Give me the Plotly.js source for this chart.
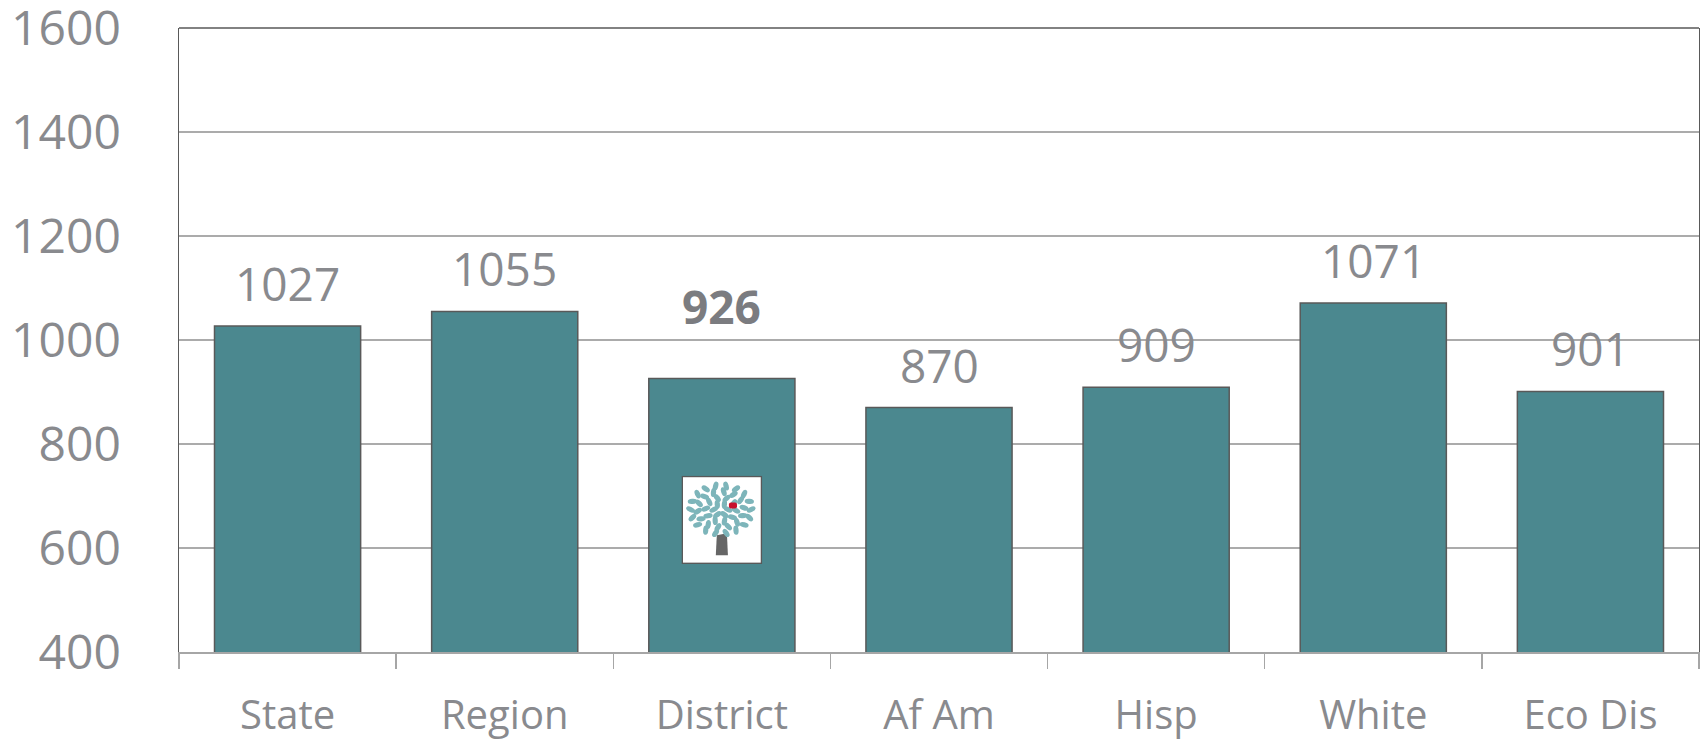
<!DOCTYPE html>
<html>
<head>
<meta charset="utf-8">
<script src="https://cdn.plot.ly/plotly-3.0.1.min.js"></script>
<style>html,body{margin:0;padding:0;background:#fff;}#chart{width:1700px;height:739px;}</style>
</head>
<body>
<div id="chart"></div>
<script>
const categories = ["State", "Region", "District", "Af Am", "Hisp", "White", "Eco Dis"];
const scores = [1027, 1055, 926, 870, 909, 1071, 901];
const highlight = "District";
const yTicks = [400, 600, 800, 1000, 1200, 1400, 1600];

const FONT = "'Open Sans', 'Noto Sans', sans-serif";
const GRAY = "#898a8e";

// logo svg (decoration only)
function logoSvg() {
  let s = '<svg xmlns="http://www.w3.org/2000/svg" width="80" height="89" viewBox="0 0 80 89">';
  s += '<rect x="0.75" y="0.75" width="78.5" height="87.5" fill="#ffffff" stroke="#595959" stroke-width="1.5"/>';
  s += '<path d="M35 60 L45 58 L46 80 L34 80 Z" fill="#666666"/>';
  const rings = [[30, 24, 18], [23, 18, 14], [15, 12, 10], [7, 6, 6]];
  rings.forEach(function (r, ri) {
    for (let k = 0; k < r[2]; k++) {
      const a = (k / r[2]) * 2 * Math.PI + ri * 0.35;
      const cx = 39 + r[0] * Math.cos(a);
      const cy = 34 + r[1] * Math.sin(a);
      const rot = a * 180 / Math.PI + 90 + (k % 2 ? 25 : -25);
      s += '<ellipse cx="' + cx.toFixed(1) + '" cy="' + cy.toFixed(1) + '" rx="2.6" ry="4.6" fill="#7db5ba" transform="rotate(' + rot.toFixed(0) + ' ' + cx.toFixed(1) + ' ' + cy.toFixed(1) + ')"/>';
    }
  });
  s += '<rect x="47" y="27" width="8" height="6" rx="2" fill="#c8102e"/>';
  s += '</svg>';
  return 'data:image/svg+xml;base64,' + btoa(s);
}

const trace = {
  type: "bar",
  x: categories,
  y: scores,
  marker: { color: "#4b888f", line: { color: "#595959", width: 1.5 } },
  hoverinfo: "x+y"
};

const annotations = categories.map(function (c, i) {
  const isH = c === highlight;
  return {
    x: c, y: scores[i], xref: "x", yref: "y",
    text: isH ? "<b>" + scores[i] + "</b>" : String(scores[i]),
    showarrow: false, yanchor: "bottom",
    yshift: isH ? 39 : 10,
    font: { family: FONT, size: 46, color: isH ? "#7b7c80" : GRAY }
  };
});

const layout = {
  width: 1700, height: 739,
  margin: { l: 179, r: 1, t: 28, b: 87 },
  paper_bgcolor: "#ffffff", plot_bgcolor: "#ffffff",
  bargap: 0.327,
  showlegend: false,
  font: { family: FONT, color: GRAY },
  xaxis: {
    type: "category",
    tickfont: { family: FONT, size: 40, color: GRAY },
    showline: true, linecolor: "#a6a6a6", linewidth: 1.5,
    ticks: "outside", tickson: "boundaries", ticklen: 15, tickcolor: "#a6a6a6", tickwidth: 1.5,
    showgrid: false, zeroline: false,
    ticklabelstandoff: 27
  },
  yaxis: {
    range: [400, 1600],
    tickvals: yTicks,
    ticktext: yTicks.map(String),
    tickfont: { family: FONT, size: 48, color: GRAY },
    showgrid: true, gridcolor: "#ababab", gridwidth: 1.5,
    showline: true, linecolor: "#595959", linewidth: 1.5, mirror: true,
    ticks: "", zeroline: false,
    ticklabelstandoff: 47,
    ticklabeloverflow: "allow"
  },
  shapes: [
    { type: "line", xref: "paper", yref: "paper", x0: 0, x1: 1, y0: 1, y1: 1,
      line: { color: "#595959", width: 1.5 } }
  ],
  images: [
    { source: logoSvg(), xref: "x", yref: "y", x: 2, y: 739, sizex: 0.372, sizey: 170,
      xanchor: "center", yanchor: "top", sizing: "stretch", layer: "above" }
  ],
  annotations: annotations
};

Plotly.newPlot("chart", [trace], layout, { staticPlot: true, displayModeBar: false });
</script>
</body>
</html>
